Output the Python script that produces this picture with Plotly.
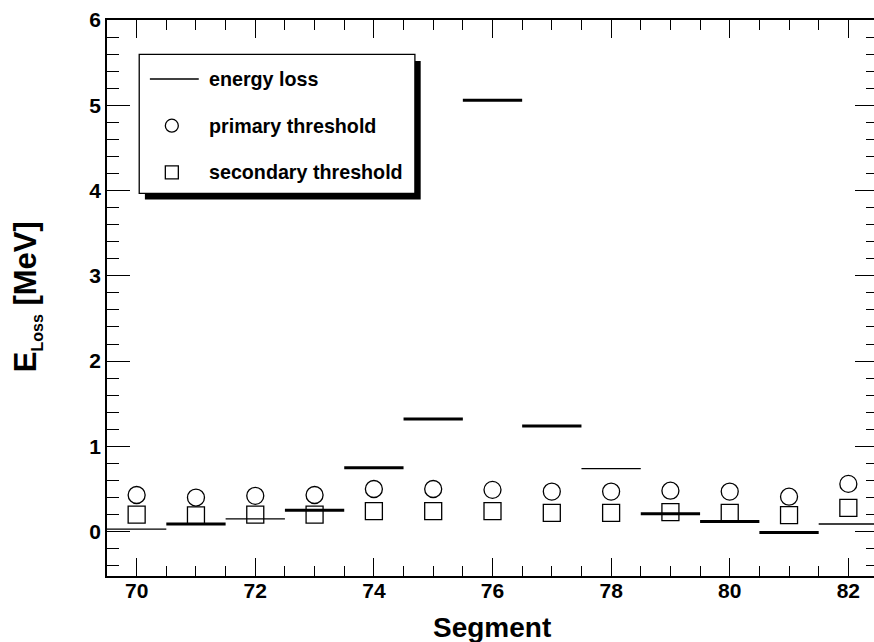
import plotly.graph_objects as go

# ---- data ----
segments = [70, 71, 72, 73, 74, 75, 76, 77, 78, 79, 80, 81, 82]
energy_loss = [0.03, 0.09, 0.15, 0.25, 0.75, 1.32, 5.06, 1.24, 0.74, 0.21, 0.12, -0.01, 0.09]
primary_threshold = [0.43, 0.40, 0.42, 0.43, 0.50, 0.50, 0.49, 0.47, 0.47, 0.48, 0.47, 0.41, 0.56]
secondary_threshold = [0.20, 0.19, 0.20, 0.20, 0.24, 0.24, 0.24, 0.22, 0.22, 0.23, 0.22, 0.195, 0.28]
thick_line = [False, True, False, True, True, True, True, True, False, True, True, True, False]
x_ticks = [70, 72, 74, 76, 78, 80, 82]
y_ticks = [0, 1, 2, 3, 4, 5, 6]

FONT = "Liberation Sans"
W, H = 882, 642
# plot area in page pixels (right axis lies just outside the 874px window, as in the reference)
L, R, T, B = 107, 880, 20, 576

fig = go.Figure()

def seg_xy(flag):
    xs, ys = [], []
    for s, e, t in zip(segments, energy_loss, thick_line):
        if t == flag:
            xs += [s - 0.5, s + 0.5, None]
            ys += [e, e, None]
    return xs, ys

xt, yt = seg_xy(True)
xn, yn = seg_xy(False)
fig.add_trace(go.Scatter(x=xt, y=yt, mode="lines", line=dict(color="black", width=3),
                         showlegend=False, hoverinfo="skip"))
fig.add_trace(go.Scatter(x=xn, y=yn, mode="lines", line=dict(color="black", width=1.3),
                         showlegend=False, hoverinfo="skip"))
fig.add_trace(go.Scatter(x=segments, y=primary_threshold, mode="markers",
                         marker=dict(symbol="circle-open", size=17, color="black",
                                     line=dict(width=1.3, color="black")),
                         showlegend=False))
fig.add_trace(go.Scatter(x=segments, y=secondary_threshold, mode="markers",
                         marker=dict(symbol="square-open", size=17, color="black",
                                     line=dict(width=1.3, color="black")),
                         showlegend=False))

# ---- custom legend in page-pixel coordinates (overlay axes) ----
fig.add_trace(go.Scatter(x=[150, 199], y=[79, 79], mode="lines", xaxis="x2", yaxis="y2",
                         line=dict(color="black", width=1.3), showlegend=False, hoverinfo="skip"))
fig.add_trace(go.Scatter(x=[172], y=[125.7], mode="markers", xaxis="x2", yaxis="y2",
                         marker=dict(symbol="circle-open", size=13, color="black",
                                     line=dict(width=1.3, color="black")),
                         showlegend=False, hoverinfo="skip"))
fig.add_trace(go.Scatter(x=[172], y=[172.3], mode="markers", xaxis="x2", yaxis="y2",
                         marker=dict(symbol="square-open", size=13, color="black",
                                     line=dict(width=1.3, color="black")),
                         showlegend=False, hoverinfo="skip"))

shapes = [
    dict(type="rect", xref="x2", yref="y2", x0=145, x1=421.5, y0=61, y1=199.5,
         fillcolor="black", line=dict(width=0), layer="below"),
    dict(type="rect", xref="x2", yref="y2", x0=139.3, x1=415.7, y0=54.3, y1=193.3,
         fillcolor="white", line=dict(color="black", width=1.3), layer="below"),
]
legend_labels = ["energy loss", "primary threshold", "secondary threshold"]
legend_y = [79, 125.7, 172.3]
annotations = []
for lab, ly in zip(legend_labels, legend_y):
    annotations.append(dict(x=207, y=ly, xref="x2", yref="y2", text=lab, showarrow=False,
                            xanchor="left", yanchor="middle",
                            font=dict(family=FONT, size=19.7, color="black", weight="bold")))

def px(xp):
    return (xp - L) / (R - L)

def py(yp):
    return (B - yp) / (B - T)

# axis titles
annotations.append(dict(x=px(493), y=py(627), xref="paper", yref="paper",
                        text="Segment", showarrow=False, xanchor="center", yanchor="middle",
                        font=dict(family=FONT, size=28, color="black", weight="bold")))
annotations.append(dict(x=px(27), y=py(297), xref="paper", yref="paper",
                        text="E<sub><span style='font-size:16px'>Loss</span></sub> [MeV]",
                        showarrow=False, textangle=-90, xanchor="center", yanchor="middle",
                        font=dict(family=FONT, size=31, color="black", weight="bold")))

tickfont = dict(family=FONT, size=21, color="black", weight="bold")
fig.update_layout(
    width=W, height=H,
    margin=dict(l=L, r=W - R, t=T, b=H - B, pad=0),
    paper_bgcolor="white", plot_bgcolor="white",
    showlegend=False,
    shapes=shapes, annotations=annotations,
    xaxis=dict(range=[69.5, 82.5], tickvals=x_ticks,
               ticks="inside", ticklen=18, tickwidth=1.3, tickcolor="black",
               minor=dict(dtick=0.5, tick0=70, ticks="inside", ticklen=10, tickwidth=1.3, tickcolor="black"),
               showline=True, linecolor="black", linewidth=1.5, mirror="ticks",
               showgrid=False, zeroline=False, tickfont=tickfont, ticklabelstandoff=-5),
    yaxis=dict(range=[-0.52, 6.0], tickvals=y_ticks,
               ticks="inside", ticklen=23, tickwidth=1.3, tickcolor="black",
               minor=dict(dtick=0.2, tick0=0, ticks="inside", ticklen=12, tickwidth=1.3, tickcolor="black"),
               showline=True, linecolor="black", linewidth=1.5, mirror="ticks",
               showgrid=False, zeroline=False, tickfont=tickfont),
    xaxis2=dict(range=[L, R], overlaying="x", visible=False, anchor="y2"),
    yaxis2=dict(range=[B, T], overlaying="y", visible=False, anchor="x2"),
)

fig.write_html("out.html", config={"displayModeBar": False},
               post_script="document.body.style.margin='0';document.body.style.overflow='hidden';"
                           "document.documentElement.style.overflow='hidden';")
